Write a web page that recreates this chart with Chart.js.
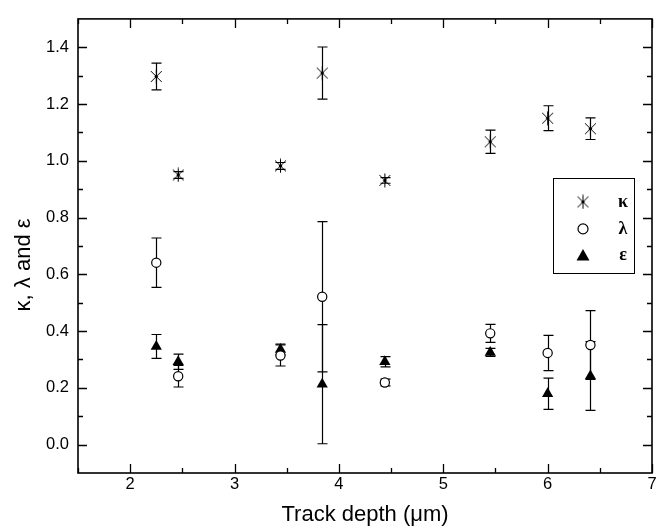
<!DOCTYPE html>
<html>
<head>
<meta charset="utf-8">
<script src="https://cdn.jsdelivr.net/npm/chart.js@4/dist/chart.umd.min.js"></script>
<style>
  html, body { margin: 0; padding: 0; background: #fff; }
  #wrap { width: 670px; height: 528px; }
</style>
</head>
<body>
<div id="wrap"><canvas id="c" width="670" height="528"></canvas></div>
<script>
// ---- data ----
const trackDepth = [2.25, 2.46, 3.44, 3.84, 4.44, 5.45, 6.0, 6.41];
const kappa      = [1.297, 0.950, 0.982, 1.309, 0.931, 1.067, 1.150, 1.113];
const kappaErr   = [0.047, 0.012, 0.012, 0.092, 0.010, 0.041, 0.044, 0.038];
const lambda     = [0.641, 0.241, 0.314, 0.521, 0.219, 0.392, 0.323, 0.351];
const lambdaErr  = [0.087, 0.038, 0.037, 0.265, 0.012, 0.032, 0.062, 0.121];
const epsilon    = [0.346, 0.292, 0.335, 0.213, 0.292, 0.325, 0.179, 0.242];
const epsilonErr = [0.042, 0.027, 0.019, 0.210, 0.018, 0.014, 0.055, 0.121];
const xTickValues = [2, 3, 4, 5, 6, 7];
const yTickValues = [0.0, 0.2, 0.4, 0.6, 0.8, 1.0, 1.2, 1.4];
const seriesLabels = ['\u03BA', '\u03BB', '\u03B5'];
const xTitle = 'Track depth (\u03BCm)';
const yTitle = '\u03BA, \u03BB and \u03B5';

// asterisk marker
function makeAsterisk(size) {
  const c = document.createElement('canvas');
  c.width = size; c.height = size;
  const g = c.getContext('2d');
  const m = size / 2, r = size / 2 - 0.5;
  g.strokeStyle = '#000'; g.lineWidth = 1;
  g.beginPath();
  g.moveTo(m, m - r); g.lineTo(m, m + r);
  const d = r * 0.78;
  g.moveTo(m - d, m - d); g.lineTo(m + d, m + d);
  g.moveTo(m + d, m - d); g.lineTo(m - d, m + d);
  g.stroke();
  g.fillStyle = '#000';
  g.beginPath(); g.arc(m, m, 1.7, 0, Math.PI * 2); g.fill();
  return c;
}
const asterisk = makeAsterisk(15);

const toPts = (ys) => trackDepth.map((x, i) => ({ x: x, y: ys[i] }));
const errs = [kappaErr, lambdaErr, epsilonErr];

const errorBarPlugin = {
  id: 'errorBars',
  beforeDatasetsDraw(chart) {
    const ctx = chart.ctx, xs = chart.scales.x, ys = chart.scales.y;
    ctx.save();
    ctx.strokeStyle = '#000'; ctx.lineWidth = 1.2;
    chart.data.datasets.forEach((ds, di) => {
      ds.data.forEach((p, i) => {
        const e = errs[di][i];
        const px = Math.round(xs.getPixelForValue(p.x)) + 0.5;
        const yt = ys.getPixelForValue(p.y + e);
        const yb = ys.getPixelForValue(p.y - e);
        ctx.beginPath();
        ctx.moveTo(px, yt); ctx.lineTo(px, yb);
        ctx.moveTo(px - 5, yt); ctx.lineTo(px + 5, yt);
        ctx.moveTo(px - 5, yb); ctx.lineTo(px + 5, yb);
        ctx.stroke();
      });
    });
    ctx.restore();
  }
};

const framePlugin = {
  id: 'frame',
  afterDraw(chart) {
    const ctx = chart.ctx, a = chart.chartArea, xs = chart.scales.x, ys = chart.scales.y;
    ctx.save();
    ctx.strokeStyle = '#000';
    ctx.lineWidth = 1.6;
    ctx.strokeRect(a.left, a.top, a.right - a.left, a.bottom - a.top);
    ctx.lineWidth = 1.3;
    ctx.beginPath();
    for (let k = 3; k <= 14; k++) {
      const v = k / 2;
      const px = Math.round(xs.getPixelForValue(v)) + 0.5;
      const L = (k % 2 === 0) ? 9 : 5;
      ctx.moveTo(px, a.bottom); ctx.lineTo(px, a.bottom - L);
      ctx.moveTo(px, a.top); ctx.lineTo(px, a.top + L);
    }
    for (let k = 0; k <= 14; k++) {
      const v = k / 10;
      const py = Math.round(ys.getPixelForValue(v)) + 0.5;
      const L = (k % 2 === 0) ? 9 : 5;
      ctx.moveTo(a.left, py); ctx.lineTo(a.left + L, py);
      ctx.moveTo(a.right, py); ctx.lineTo(a.right - L, py);
    }
    ctx.stroke();

    // y axis title
    ctx.save();
    ctx.translate(24, (a.top + a.bottom) / 2 + 19);
    ctx.rotate(-Math.PI / 2);
    ctx.font = '22px "Liberation Sans", Arial, sans-serif';
    ctx.textAlign = 'center'; ctx.textBaseline = 'middle'; ctx.fillStyle = '#000';
    ctx.fillText(yTitle, 0, 0);
    ctx.restore();

    // legend
    const bx = a.right - 99, by = a.top + 159, bw = 81, bh = 95;
    ctx.lineWidth = 1;
    ctx.strokeRect(Math.round(bx) + 0.5, Math.round(by) + 0.5, bw, bh);
    const sx = bx + 30, tx = bx + 70;
    const rows = [by + 24, by + 51, by + 77.5];
    ctx.font = 'bold 18px "Liberation Serif", "DejaVu Serif", serif';
    ctx.textAlign = 'center'; ctx.textBaseline = 'middle'; ctx.fillStyle = '#000';
    chart.data.datasets.forEach((ds, i) => {
      const r = rows[i];
      if (i === 0) {
        ctx.drawImage(asterisk, sx - 7.5, r - 7.5);
      } else if (i === 1) {
        ctx.beginPath(); ctx.arc(sx, r, 5, 0, Math.PI * 2);
        ctx.fillStyle = '#fff'; ctx.fill(); ctx.strokeStyle = '#000'; ctx.lineWidth = 1.2; ctx.stroke();
      } else {
        ctx.beginPath(); ctx.moveTo(sx, r - 6.5); ctx.lineTo(sx + 6.5, r + 5); ctx.lineTo(sx - 6.5, r + 5); ctx.closePath();
        ctx.fillStyle = '#000'; ctx.fill();
      }
      ctx.fillStyle = '#000';
      ctx.fillText(ds.label, tx, r);
    });
    ctx.restore();
  }
};

new Chart(document.getElementById('c'), {
  type: 'scatter',
  data: {
    datasets: [
      { label: seriesLabels[0], data: toPts(kappa), pointStyle: asterisk, pointRadius: 7.5, showLine: false },
      { label: seriesLabels[1], data: toPts(lambda), pointStyle: 'circle', pointRadius: 4.6, pointBackgroundColor: '#fff', pointBorderColor: '#000', pointBorderWidth: 1.2, showLine: false },
      { label: seriesLabels[2], data: toPts(epsilon), pointStyle: 'triangle', pointRadius: 6.5, pointBackgroundColor: '#000', pointBorderColor: '#000', pointBorderWidth: 0, showLine: false }
    ]
  },
  options: {
    responsive: false,
    animation: false,
    events: [],
    layout: { padding: { top: 10, right: 18, left: 0, bottom: 0 } },
    plugins: { legend: { display: false }, tooltip: { enabled: false }, title: { display: false } },
    scales: {
      x: {
        type: 'linear', min: 1.5, max: 7,
        afterFit(s) { s.height = 55; },
        afterBuildTicks(s) { s.ticks = xTickValues.map(v => ({ value: v })); },
        grid: { display: false, drawTicks: false },
        border: { display: false },
        ticks: { color: '#000', padding: 2, font: { family: '"Liberation Sans", Arial, sans-serif', size: 16.5 }, callback: v => String(v) },
        title: { display: true, text: xTitle, color: '#000', font: { family: '"Liberation Sans", Arial, sans-serif', size: 22 }, padding: { top: 0, bottom: 0 } }
      },
      y: {
        type: 'linear', min: -0.1, max: 1.5,
        afterFit(s) { s.width = 78; },
        afterBuildTicks(s) { s.ticks = yTickValues.map(v => ({ value: v })); },
        grid: { display: false, drawTicks: false },
        border: { display: false },
        ticks: { color: '#000', padding: 9, font: { family: '"Liberation Sans", Arial, sans-serif', size: 16.5 }, callback: v => Number(v).toFixed(1) },
        title: { display: false }
      }
    }
  },
  plugins: [errorBarPlugin, framePlugin]
});
</script>
</body>
</html>
